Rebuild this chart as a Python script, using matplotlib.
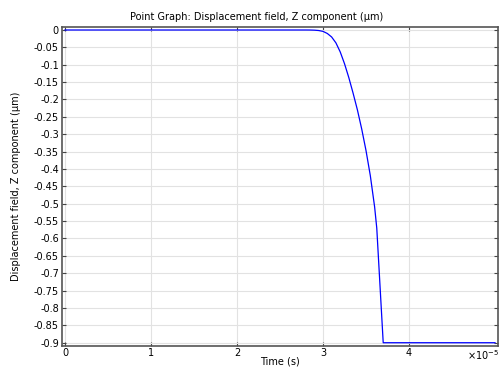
import numpy as np
import matplotlib
matplotlib.use('Agg')
import matplotlib.pyplot as plt

# time in units of 1e-5 s, displacement z in um
t = [0, 0.5, 1, 1.5, 2, 2.5, 2.7, 2.8, 2.85, 2.9, 2.95, 3.0, 3.05, 3.1, 3.15, 3.2, 3.25, 3.3,
     3.35, 3.4, 3.45, 3.5, 3.55, 3.6, 3.625, 3.7, 3.8, 4.0, 4.5, 5.0]
w = [0, 0, 0, 0, 0, 0, 0, 0, -0.0001, -0.0005, -0.0015, -0.004, -0.010, -0.020, -0.037, -0.063, -0.097, -0.137,
     -0.182, -0.230, -0.285, -0.347, -0.419, -0.509, -0.57, -0.9, -0.9, -0.9, -0.9, -0.9]

xticks = [0, 1, 2, 3, 4]
yticks = [0, -0.05, -0.1, -0.15, -0.2, -0.25, -0.3, -0.35, -0.4, -0.45, -0.5,
          -0.55, -0.6, -0.65, -0.7, -0.75, -0.8, -0.85, -0.9]
ylabels = ['0', '-0.05', '-0.1', '-0.15', '-0.2', '-0.25', '-0.3', '-0.35', '-0.4', '-0.45', '-0.5',
           '-0.55', '-0.6', '-0.65', '-0.7', '-0.75', '-0.8', '-0.85', '-0.9']

fig = plt.figure(figsize=(5, 3.67), dpi=100)
ax = fig.add_axes([0.1234, 0.058, 0.8732, 0.8684])

ax.plot(t, w, color='#0000ff', lw=0.9)

ax.set_xlim(-0.038, 5.038)
ax.set_ylim(-0.9086, 0.0086)
ax.set_xticks(xticks)
ax.set_xticklabels([str(v) for v in xticks])
ax.set_yticks(yticks)
ax.set_yticklabels(ylabels)
ax.grid(True, color='#e2e2e2', lw=0.8)
ax.tick_params(direction='in', length=3, width=0.8, labelsize=7, color='#444444',
               top=True, right=True, pad=2)
for s in ax.spines.values():
    s.set_color('#555555')
    s.set_linewidth(1.2)

fig.text(257 / 500, 1 - 17 / 367, 'Point Graph: Displacement field, Z component (µm)',
         fontsize=7, ha='center', va='center')
fig.text(16 / 500, 0.5 - 3 / 367, 'Displacement field, Z component (µm)', fontsize=7,
         rotation=90, ha='center', va='center')
fig.text(280 / 500, 1 - 362 / 367, 'Time (s)', fontsize=7, ha='center', va='center')
fig.text(499 / 500, 1 - 355 / 367, r'$\times10^{-5}$', fontsize=7, ha='right', va='center')

fig.savefig('out.png', dpi=100)
